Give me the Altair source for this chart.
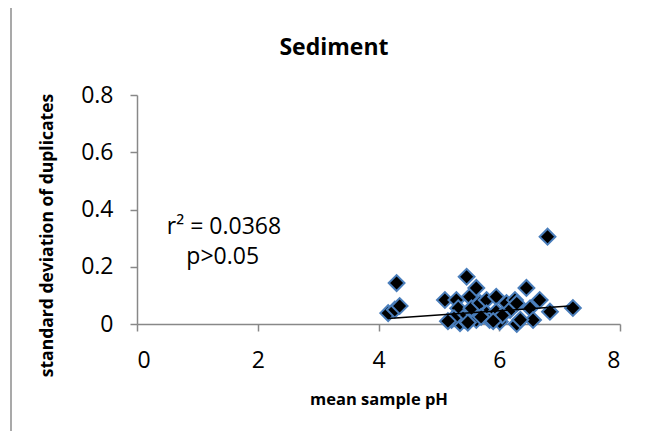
import altair as alt
import pandas as pd

# mean sample pH and standard deviation of duplicates
ph = [4.16, 4.27, 4.30, 4.35, 5.10, 5.21, 5.29, 5.32, 5.35, 5.43, 5.46, 5.51,
      5.54, 5.62, 5.62, 5.68, 5.79, 5.79, 5.84, 5.95, 5.95, 6.01, 6.12, 6.18,
      6.26, 6.29, 6.29, 6.45, 6.51, 6.56, 6.67, 6.80, 6.84, 7.22, 5.40, 5.70,
      6.05, 5.25, 5.48, 5.90, 6.35, 5.15]
sd = [0.038, 0.050, 0.143, 0.063, 0.084, 0.014, 0.084, 0.055, 0.003, 0.014,
      0.165, 0.095, 0.055, 0.126, 0.014, 0.073, 0.084, 0.037, 0.014, 0.095,
      0.043, 0.008, 0.073, 0.049, 0.084, 0.000, 0.072, 0.126, 0.055, 0.014,
      0.084, 0.305, 0.043, 0.056, 0.020, 0.025, 0.030, 0.020, 0.005, 0.010,
      0.015, 0.010]

# linear trend line
trend_x = [4.16, 7.22]
trend_y = [0.019, 0.064]

x_ticks = [0, 2, 4, 6, 8]
y_ticks = [0, 0.2, 0.4, 0.6, 0.8]

notes = ["r\u00b2 = 0.0368", "p>0.05"]
note_x = [1.44, 1.42]
note_y = [0.34, 0.235]

df = pd.DataFrame({"ph": ph, "sd": sd})
trend_df = pd.DataFrame({"ph": trend_x, "sd": trend_y})
notes_df = pd.DataFrame({"t": notes, "x": note_x, "y": note_y})
title_df = pd.DataFrame({"t": ["Sediment"]})

FONT = "Open Sans"
AX = "#888888"

xscale = alt.Scale(domain=[0, 8], nice=False, zero=True)
yscale = alt.Scale(domain=[0, 0.8], nice=False, zero=True)

xaxis = alt.Axis(values=x_ticks, format="d", title="mean sample pH", grid=False,
                 domainColor=AX, tickColor=AX, domainWidth=1.5, tickWidth=1.5,
                 tickSize=7, labelPadding=18, labelFontSize=23, labelFont=FONT,
                 labelColor="#000", titleFont=FONT, titleFontSize=16.5,
                 titleFontWeight="bold", titleColor="#000", titlePadding=19)
yaxis = alt.Axis(values=y_ticks, format=".1~f", title="standard deviation of duplicates",
                 grid=False, domainColor=AX, tickColor=AX, domainWidth=1.5,
                 tickWidth=1.5, tickSize=7, labelPadding=17, labelFontSize=23,
                 labelFont=FONT, labelColor="#000", titleFont=FONT, titleFontSize=17.5,
                 titleFontWeight="bold", titleColor="#000", titlePadding=24,
                 titleY=140)

base = alt.Chart(df)

points = base.mark_point(shape="diamond", filled=False, fill="#000000", fillOpacity=1,
                         stroke="#4a7ebb", strokeWidth=2, size=250, opacity=1).encode(
    x=alt.X("ph:Q", scale=xscale, axis=xaxis),
    y=alt.Y("sd:Q", scale=yscale, axis=yaxis),
)

trend = alt.Chart(trend_df).mark_line(color="#000000", strokeWidth=1.5).encode(
    x=alt.X("ph:Q", scale=xscale),
    y=alt.Y("sd:Q", scale=yscale),
)

text = alt.Chart(notes_df).mark_text(font=FONT, fontSize=23, color="#000").encode(
    x=alt.X("x:Q", scale=xscale),
    y=alt.Y("y:Q", scale=yscale),
    text="t:N",
)

title = alt.Chart(title_df).mark_text(font=FONT, fontSize=23, fontWeight="bold",
                                      color="#000", baseline="middle").encode(
    x=alt.value(197), y=alt.value(-47), text="t:N"
)

frame_top = alt.Chart(title_df).mark_rule(color="#8c8c8c", strokeWidth=1.5).encode(
    x=alt.value(-126), x2=alt.value(560), y=alt.value(-88)
)
frame_left = alt.Chart(title_df).mark_rule(color="#8c8c8c", strokeWidth=1.5).encode(
    x=alt.value(-126), y=alt.value(-88), y2=alt.value(400)
)

chart = alt.layer(frame_top, frame_left, points, trend, text, title).properties(
    width=483, height=229,
    autosize=alt.AutoSizeParams(type="none"),
    padding={"left": 129, "top": 87, "right": 26, "bottom": 107},
).configure_view(stroke=None)

chart.save("out.html", embed_options={"renderer": "svg", "actions": False})
